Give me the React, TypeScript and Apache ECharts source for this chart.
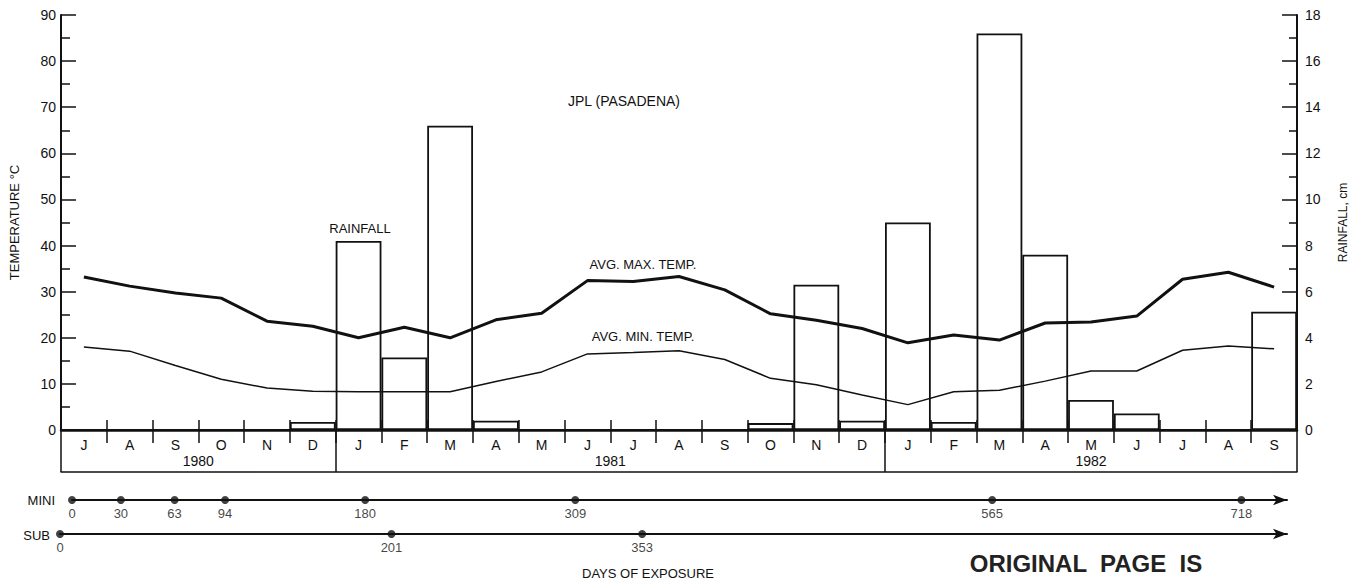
import React, { useEffect, useRef } from "react";
import * as echarts from "echarts";

const months = ["J","A","S","O","N","D","J","F","M","A","M","J","J","A","S","O","N","D","J","F","M","A","M","J","J","A","S"];
const years = ["1980", "1981", "1982"];
const yearStartIndex = [0, 6, 18];
const rainfallCm = [0, 0, 0, 0, 0, 0.35, 8.2, 3.15, 13.2, 0.4, 0, 0, 0, 0, 0, 0.3, 6.3, 0.4, 9.0, 0.35, 17.2, 7.6, 1.3, 0.72, 0, 0, 5.13];
const avgMaxTemp = [33.2, 31.2, 29.7, 28.6, 23.6, 22.5, 20, 22.3, 20, 23.9, 25.3, 32.4, 32.2, 33.3, 30.4, 25.2, 23.8, 22, 18.9, 20.6, 19.5, 23.2, 23.4, 24.7, 32.7, 34.2, 31];
const avgMinTemp = [18, 17.1, 14, 11, 9.1, 8.4, 8.3, 8.3, 8.3, 10.5, 12.6, 16.5, 16.8, 17.2, 15.3, 11.2, 9.8, 7.6, 5.5, 8.3, 8.6, 10.6, 12.8, 12.8, 17.3, 18.2, 17.6];
const miniDays = [0, 30, 63, 94, 180, 309, 565, 718];
const subDays = [0, 201, 353];
const tempTicks = { min: 0, max: 90, interval: 10 };
const rainTicks = { min: 0, max: 18, interval: 2 };

const INK = "#111";
const FONT = "Liberation Sans";

function steps(min: number, max: number, step: number, offset = 0) {
  const out: number[] = [];
  for (let v = min + offset; v <= max + 1e-9; v += step) out.push(+v.toFixed(6));
  return out;
}

const hiddenInsideLabel = { show: true, inside: true, customValues: [] as number[], formatter: () => "" };

export default function App() {
  const ref = useRef<HTMLDivElement>(null);
  useEffect(() => {
    if (!ref.current) return;
    const chart = echarts.init(ref.current, null, { renderer: "svg" });
    const n = months.length;
    const yearBounds = [...yearStartIndex, n];
    const yearCenters = yearStartIndex.map((s, i) => (s + yearBounds[i + 1]) / 2);
    const monthBounds = steps(1, n - 1, 1);
    const tempMajor = steps(tempTicks.min, tempTicks.max, tempTicks.interval);
    const tempMinor = steps(tempTicks.min, tempTicks.max, tempTicks.interval, tempTicks.interval / 2);
    const rainMajor = steps(rainTicks.min, rainTicks.max, rainTicks.interval);
    const rainMinor = steps(rainTicks.min, rainTicks.max, rainTicks.interval, rainTicks.interval / 2);
    const tick = (vals: number[], len: number, inside = true) => ({
      show: true, inside, length: len, customValues: vals, lineStyle: { color: INK, width: 1.5 },
    });
    const option: any = {
      animation: false,
      backgroundColor: "#fff",
      textStyle: { fontFamily: FONT, color: INK },
      grid: [
        { left: 61, right: 66, top: 15, bottom: 158 },
        { left: 61, right: 66, top: 430, height: 42 },
        { left: 61, right: 66, top: 420, height: 10 },
        { left: 72, right: 76, top: 499, height: 1 },
        { left: 60, right: 76, top: 533, height: 1 },
      ],
      xAxis: [
        {
          type: "category", gridIndex: 0, position: "bottom", data: months, boundaryGap: true,
          axisLine: { show: true, lineStyle: { color: INK, width: 2 } },
          axisTick: { show: false },
          axisLabel: { show: true, interval: 0, margin: 8, fontSize: 14, color: INK, fontFamily: FONT },
          splitLine: { show: false },
        },
        {
          type: "value", gridIndex: 0, position: "top", min: 0, max: n,
          axisLine: { show: true, lineStyle: { color: INK, width: 2.5 } },
          axisTick: tick(monthBounds, 13),
          axisLabel: hiddenInsideLabel,
          splitLine: { show: false },
        },
        {
          type: "value", gridIndex: 1, position: "bottom", min: 0, max: n,
          axisLine: { show: true, lineStyle: { color: INK, width: 1.5 } },
          axisTick: tick(yearBounds, 42),
          axisLabel: {
            show: true, inside: true, margin: 4, fontSize: 14, color: INK, fontFamily: FONT,
            customValues: yearCenters,
            formatter: (v: number) => years[yearCenters.indexOf(v)] ?? "",
          },
          splitLine: { show: false },
        },
        {
          type: "value", gridIndex: 2, position: "bottom", min: 0, max: n, interval: 1,
          axisLine: { show: false }, axisTick: { show: false }, axisLabel: { show: false },
          splitLine: { show: true, lineStyle: { color: INK, width: 1.5, type: "solid" } },
        },
        {
          type: "value", gridIndex: 3, min: 0, max: 746,
          axisLine: { show: true, symbol: ["none", "arrow"], symbolSize: [8, 14], lineStyle: { color: INK, width: 2 } },
          axisTick: { show: false }, axisLabel: { show: false }, splitLine: { show: false },
        },
        {
          type: "value", gridIndex: 4, min: 0, max: 744,
          axisLine: { show: true, symbol: ["none", "arrow"], symbolSize: [8, 14], lineStyle: { color: INK, width: 2 } },
          axisTick: { show: false }, axisLabel: { show: false }, splitLine: { show: false },
        },
      ],
      yAxis: [
        {
          type: "value", gridIndex: 0, position: "left", ...tempTicks,
          name: "TEMPERATURE °C", nameLocation: "middle", nameGap: 40, nameRotate: 90,
          nameTextStyle: { fontSize: 13, color: INK, fontFamily: FONT },
          axisLine: { show: true, lineStyle: { color: INK, width: 2 } },
          axisTick: tick(tempMajor, 15),
          axisLabel: hiddenInsideLabel,
          splitLine: { show: false },
        },
        {
          type: "value", gridIndex: 0, position: "right", ...rainTicks,
          name: "RAINFALL, cm", nameLocation: "middle", nameGap: 40, nameRotate: 90,
          nameTextStyle: { fontSize: 12, color: INK, fontFamily: FONT },
          axisLine: { show: true, lineStyle: { color: INK, width: 2 } },
          axisTick: tick(rainMajor, 15),
          axisLabel: hiddenInsideLabel,
          splitLine: { show: false },
        },
        {
          type: "value", gridIndex: 0, position: "left", ...tempTicks,
          axisLine: { show: false }, axisTick: tick(tempMinor, 9), axisLabel: hiddenInsideLabel, splitLine: { show: false },
        },
        {
          type: "value", gridIndex: 0, position: "right", ...rainTicks,
          axisLine: { show: false }, axisTick: tick(rainMinor, 8), axisLabel: hiddenInsideLabel, splitLine: { show: false },
        },
        {
          type: "value", gridIndex: 0, position: "left", ...tempTicks,
          axisLine: { show: false }, axisTick: { show: false }, splitLine: { show: false },
          axisLabel: { show: true, margin: 5, fontSize: 14, color: INK, fontFamily: FONT },
        },
        {
          type: "value", gridIndex: 0, position: "right", ...rainTicks,
          axisLine: { show: false }, axisTick: { show: false }, splitLine: { show: false },
          axisLabel: { show: true, margin: 8, fontSize: 14, color: INK, fontFamily: FONT },
        },
        { type: "value", gridIndex: 1, min: 0, max: 1, show: false },
        { type: "value", gridIndex: 2, min: 0, max: 1, show: false },
        { type: "value", gridIndex: 3, min: 0, max: 1, show: false },
        { type: "value", gridIndex: 4, min: 0, max: 1, show: false },
      ],
      series: [
        {
          name: "RAINFALL", type: "bar", xAxisIndex: 0, yAxisIndex: 1, data: rainfallCm,
          barCategoryGap: "0%", z: 2,
          itemStyle: { color: "#fff", borderColor: INK, borderWidth: 1.8 },
        },
        {
          name: "AVG. MAX. TEMP.", type: "line", xAxisIndex: 0, yAxisIndex: 0, data: avgMaxTemp,
          symbol: "none", z: 4, lineStyle: { color: INK, width: 3 },
        },
        {
          name: "AVG. MIN. TEMP.", type: "line", xAxisIndex: 0, yAxisIndex: 0, data: avgMinTemp,
          symbol: "none", z: 4, lineStyle: { color: INK, width: 1.5 },
        },
        {
          name: "MINI", type: "scatter", xAxisIndex: 4, yAxisIndex: 8, clip: false,
          data: miniDays.map((d) => [d, 0]), symbolSize: 8, itemStyle: { color: INK },
          label: { show: true, position: "bottom", distance: 3, fontSize: 13, color: INK, fontFamily: FONT, formatter: (p: any) => String(p.value[0]) },
        },
        {
          name: "SUB", type: "scatter", xAxisIndex: 5, yAxisIndex: 9, clip: false,
          data: subDays.map((d) => [d, 0]), symbolSize: 8, itemStyle: { color: INK },
          label: { show: true, position: "bottom", distance: 3, fontSize: 13, color: INK, fontFamily: FONT, formatter: (p: any) => String(p.value[0]) },
        },
      ],
      graphic: [
        { type: "text", x: 624, y: 101, style: { text: "JPL (PASADENA)", fontSize: 14, fontFamily: FONT, fill: INK, align: "center", verticalAlign: "middle" } },
        { type: "text", x: 360, y: 228, style: { text: "RAINFALL", fontSize: 13, fontFamily: FONT, fill: INK, align: "center", verticalAlign: "middle" } },
        { type: "text", x: 643, y: 264, style: { text: "AVG. MAX. TEMP.", fontSize: 13, fontFamily: FONT, fill: INK, align: "center", verticalAlign: "middle" } },
        { type: "text", x: 643, y: 336, style: { text: "AVG. MIN. TEMP.", fontSize: 13, fontFamily: FONT, fill: INK, align: "center", verticalAlign: "middle" } },
        { type: "text", x: 55, y: 500, style: { text: "MINI", fontSize: 13, fontFamily: FONT, fill: INK, align: "right", verticalAlign: "middle" } },
        { type: "text", x: 50, y: 535, style: { text: "SUB", fontSize: 13, fontFamily: FONT, fill: INK, align: "right", verticalAlign: "middle" } },
        { type: "text", x: 648, y: 573, style: { text: "DAYS OF EXPOSURE", fontSize: 13, fontFamily: FONT, fill: INK, align: "center", verticalAlign: "middle" } },
        { type: "text", x: 1086, y: 563, style: { text: "ORIGINAL  PAGE  IS", fontSize: 24, fontWeight: "bold", fontFamily: FONT, fill: "#222", align: "center", verticalAlign: "middle" } },
      ],
    };
    chart.setOption(option);
    return () => chart.dispose();
  }, []);
  return (
    <div
      ref={ref}
      style={{ position: "fixed", left: 0, top: 0, width: 1363, height: 588, background: "#fff" }}
    />
  );
}
